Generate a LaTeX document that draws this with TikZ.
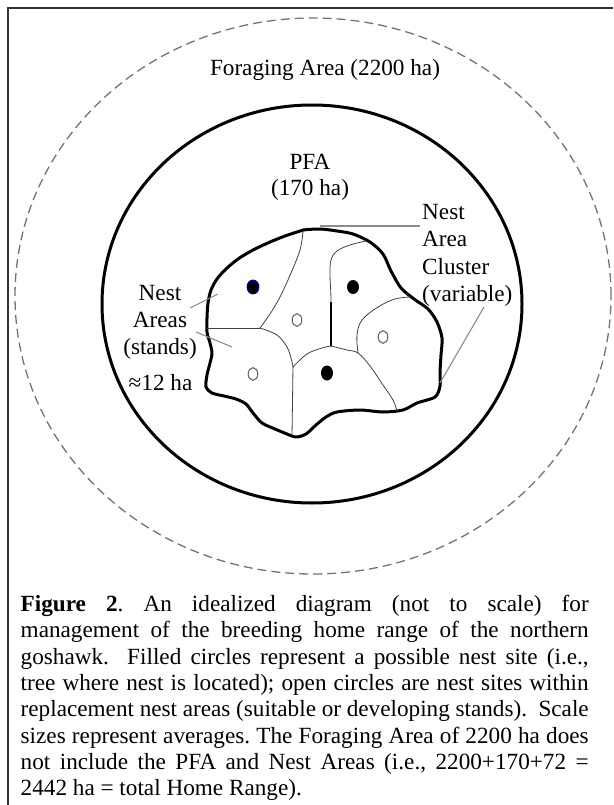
\documentclass[tikz,border=0pt]{standalone}
\usepackage{fontspec}
\setmainfont{Liberation Serif}
\begin{document}
\begin{tikzpicture}[x=1pt,y=-1pt,
  lbl/.style={inner sep=0, font=\fontsize{23.2}{27.5}\selectfont},
  frameline/.style={line width=1.5pt, draw=black!80},
  standline/.style={line width=0.8pt, draw=black!75, line cap=round},
  leader/.style={line width=1.1pt, draw=black!45},
  boldline/.style={line width=3pt, line join=round, draw=black},
  opendot/.style={line width=1.1pt, draw=black!60},
  fulldot/.style={fill=black},
]
\useasboundingbox (0,0) rectangle (613,805);
% frame (top and left only)
\draw[frameline] (8,805) -- (8,8) -- (613,8);

% foraging area (dashed)
\draw[line width=1.3pt, draw=black!55, dash pattern=on 9pt off 5pt]
  (313,296) ellipse [x radius=298pt, y radius=278pt];
% PFA
\draw[boldline] (312,304) ellipse [x radius=210pt, y radius=199pt];

% nest area cluster outline
\draw[boldline] plot[smooth cycle, tension=0.5] coordinates {
 (303,230) (320,229) (337,231) (353,234) (370,242) (383,254) (391,271)
 (401,288) (414,299) (428,309) (437,322) (442,338) (441,355) (440,372)
 (440,386) (435,397) (417,403) (403,410) (383,412) (360,410) (337,412)
 (326,417) (316,425) (306,434) (296,437) (287,434) (275,429) (262,423)
 (253,413) (246,404) (236,399) (224,396) (212,393) (206,387) (207,375)
 (210,363) (212,353) (210,343) (207,332) (207,318) (208,303) (211,290)
 (217,279) (226,269) (238,259) (253,250) (270,242) (285,236) (297,232)};

% stand boundaries
\coordinate (J1) at (260,328);
\coordinate (J2) at (293,367);
\coordinate (J3) at (331,346);
\coordinate (J4) at (358,353);
\draw[standline] plot[smooth, tension=0.6] coordinates {(303,231) (300,250) (291,273) (280,297) (270,314) (J1)};
\draw[standline] (207,328) -- (J1);
\draw[standline] plot[smooth, tension=0.6] coordinates {(J1) (277,335) (287,347) (291,358) (J2)};
\draw[standline] (J2) -- (292,436);
\draw[standline] plot[smooth, tension=0.6] coordinates {(J2) (307,354) (322,348) (J3)};
\draw[standline] plot[smooth, tension=0.6] coordinates {(J3) (331,300) (330,275) (331,260) (337,251) (350,245) (366,241)};
\draw[line width=1.6pt] (331,302) -- (J3);
\draw[standline] plot[smooth, tension=0.6] coordinates {(J3) (347,350) (J4) (370,366) (383,385) (393,400) (397,411)};
\draw[standline] plot[smooth, tension=0.6] coordinates {(J4) (357,335) (362,320) (378,307) (395,299) (410,297)};

% nest sites
\fill[fulldot] (253,287) ellipse [x radius=6pt, y radius=7pt];
\draw[line width=0.9pt, draw=blue!80!black] (253,287) ellipse [x radius=6pt, y radius=7pt];
\fill[fulldot] (353,287) ellipse [x radius=6pt, y radius=7pt];
\fill[fulldot] (327,373) ellipse [x radius=6pt, y radius=7.5pt];
\draw[opendot] (297,320) ellipse [x radius=4.8pt, y radius=6.3pt];
\draw[opendot] (383,337) ellipse [x radius=4.8pt, y radius=6.3pt];
\draw[opendot] (253,374) ellipse [x radius=4.8pt, y radius=6.3pt];

% labels
\node[lbl, anchor=base] (fa) at (325,76) {Foraging Area (2200 ha)};
\node[lbl, anchor=base] (pfa1) at (310,170) {PFA};
\node[lbl, anchor=base] (pfa2) at (310,196) {(170 ha)};

\node[lbl, anchor=base west] (nac1) at (422,219) {Nest};
\node[lbl, anchor=base west] (nac2) at (422,246.5) {Area};
\node[lbl, anchor=base west] (nac3) at (422,274) {Cluster};
\node[lbl, anchor=base west] (nac4) at (422,301.5) {(variable)};

\node[lbl, anchor=base] (na1) at (160,300) {Nest};
\node[lbl, anchor=base] (na2) at (160,327) {Areas};
\node[lbl, anchor=base] (na3) at (160,354) {(stands)};
\node[lbl, anchor=base] (na4) at (160.5,390) {≈12 ha};

% leader lines
\coordinate (lA) at (320,226);
\coordinate (lB) at (420,226);
\coordinate (lC) at (484,307);
\coordinate (lD) at (440,383);
\coordinate (lE) at (190,308);
\coordinate (lF) at (218,294);
\coordinate (lG) at (196,332);
\coordinate (lH) at (232,347);
\draw[leader] (lA) -- (lB);
\draw[leader] (lC) -- (lD);
\draw[leader] (lE) -- (lF);
\draw[leader] (lG) -- (lH);

% caption
\node[anchor=north west, inner sep=0, text width=568pt, align=justify,
      font=\fontsize{23.2}{26.3}\selectfont] (cap) at (20.5,595) {\frenchspacing\tolerance=10000\hbadness=10000\hyphenpenalty=10000\exhyphenpenalty=10000\noindent
\textbf{Figure 2}. An idealized diagram (not to scale) for\linebreak
management of the breeding home range of the northern\linebreak
goshawk.\ \ Filled circles represent a possible nest site (i.e.,\linebreak
tree where nest is located); open circles are nest sites within\linebreak
replacement nest areas (suitable or developing stands).\ \ Scale\linebreak
sizes represent averages. The Foraging Area of 2200 ha does\linebreak
not include the PFA and Nest Areas (i.e., 2200+170+72 =\linebreak
2442 ha = total Home Range).};
\end{tikzpicture}
\end{document}
